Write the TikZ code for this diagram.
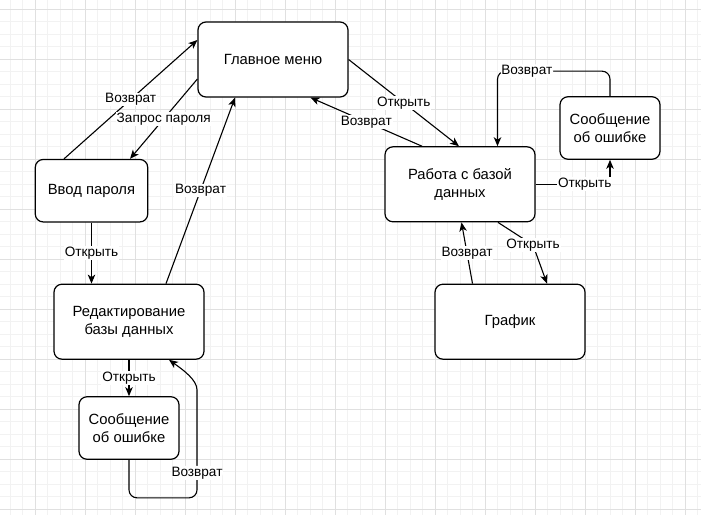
\documentclass[tikz,border=0pt]{standalone}
\usepackage{fontspec}
\setmainfont{Liberation Sans}
\usetikzlibrary{arrows.meta}

\tikzset{
  state/.style={draw, line width=1.2pt, rounded corners=8pt, fill=white,
    minimum width=150pt, minimum height=75pt, align=center,
    font=\fontsize{14.8}{18.5}\selectfont},
  small/.style={state, minimum width=100pt, minimum height=62.5pt},
  edge/.style={line width=1.1pt, -{Stealth[length=9pt, width=7.5pt, inset=2.5pt]}},
  lbl/.style={fill=white, inner sep=0.8pt, font=\fontsize{13.6}{15}\selectfont},
}

\begin{document}
\begin{tikzpicture}[x=1pt, y=-1pt]
		\useasboundingbox (0,0) rectangle (701,515);
		% grid
		\foreach \k in {-2,...,53}
			\draw[black!5, line width=0.8pt] (35+12.5*\k,0) -- (35+12.5*\k,515);
		\foreach \k in {-1,...,41}
			\draw[black!5, line width=0.8pt] (0,9.3+12.5*\k) -- (701,9.3+12.5*\k);
		\foreach \x in {35,85,...,685}
			\draw[black!12, line width=0.8pt] (\x,0) -- (\x,515);
		\foreach \y in {9.3,59.3,...,509.3}
			\draw[black!12, line width=0.8pt] (0,\y) -- (701,\y);

		% states
		\node[state] (menu) at (273,59.5) {Главное меню};
		\node[state, minimum width=112.5pt, minimum height=62.5pt] (vvod) at (91.5,190.7) {Ввод пароля};
		\node[state] (redakt) at (129,321.7) {Редактирование\\базы данных};
		\node[small] (soobA) at (129,428) {Сообщение\\об ошибке};
		\node[state] (rabota) at (460,184.3) {Работа с базой\\данных};
		\node[small] (soobB) at (610,128) {Сообщение\\об ошибке};
		\node[state] (grafik) at (510,321.7) {График};
		\coordinate (bendG) at (533,245);

		% transitions
		\draw[edge] ([xshift=-27.5pt]vvod.north) -- node[lbl]{Возврат} ([yshift=19.5pt]menu.west);
		\draw[edge] ([yshift=-19.5pt]menu.west) -- node[lbl]{Запрос пароля} ([xshift=38.5pt]vvod.north);
		\draw[edge] (vvod.south) -- node[lbl]{Открыть} (vvod.south |- redakt.north);
		\draw[edge] ([xshift=37pt]redakt.north) -- node[lbl]{Возврат} ([xshift=-38pt]menu.south);
		\draw[edge] (menu.east) -- node[lbl]{Открыть} ([xshift=-1pt]rabota.north);
		\draw[edge] ([xshift=-38pt]rabota.north) -- node[lbl]{Возврат} ([xshift=37.5pt]menu.south);
		\draw[edge] (rabota.east) -| node[lbl, pos=0.33]{Открыть} (soobB.south);
		\draw[edge, rounded corners=8pt] (soobB.north) -- ++(0,-25) -| node[lbl, pos=0.37]{Возврат} ([xshift=37.5pt]rabota.north);
		\draw[edge] ([xshift=38pt]rabota.south) -- (bendG) node[lbl]{Открыть} -- ([xshift=37pt]grafik.north);
		\draw[edge] ([xshift=-37.5pt]grafik.north) -- node[lbl]{Возврат} ([xshift=1.5pt]rabota.south);
		\draw[edge] (redakt.south) -- node[lbl]{Открыть} (soobA.north);
		\draw[edge, rounded corners=8pt] (soobA.south) -- ++(0,38) -| node[lbl, pos=0.625]{Возврат} ++(68,-100)
			.. controls +(0,-18) and +(14,10) .. ([xshift=40pt]redakt.south);
	\end{tikzpicture}
\end{document}
